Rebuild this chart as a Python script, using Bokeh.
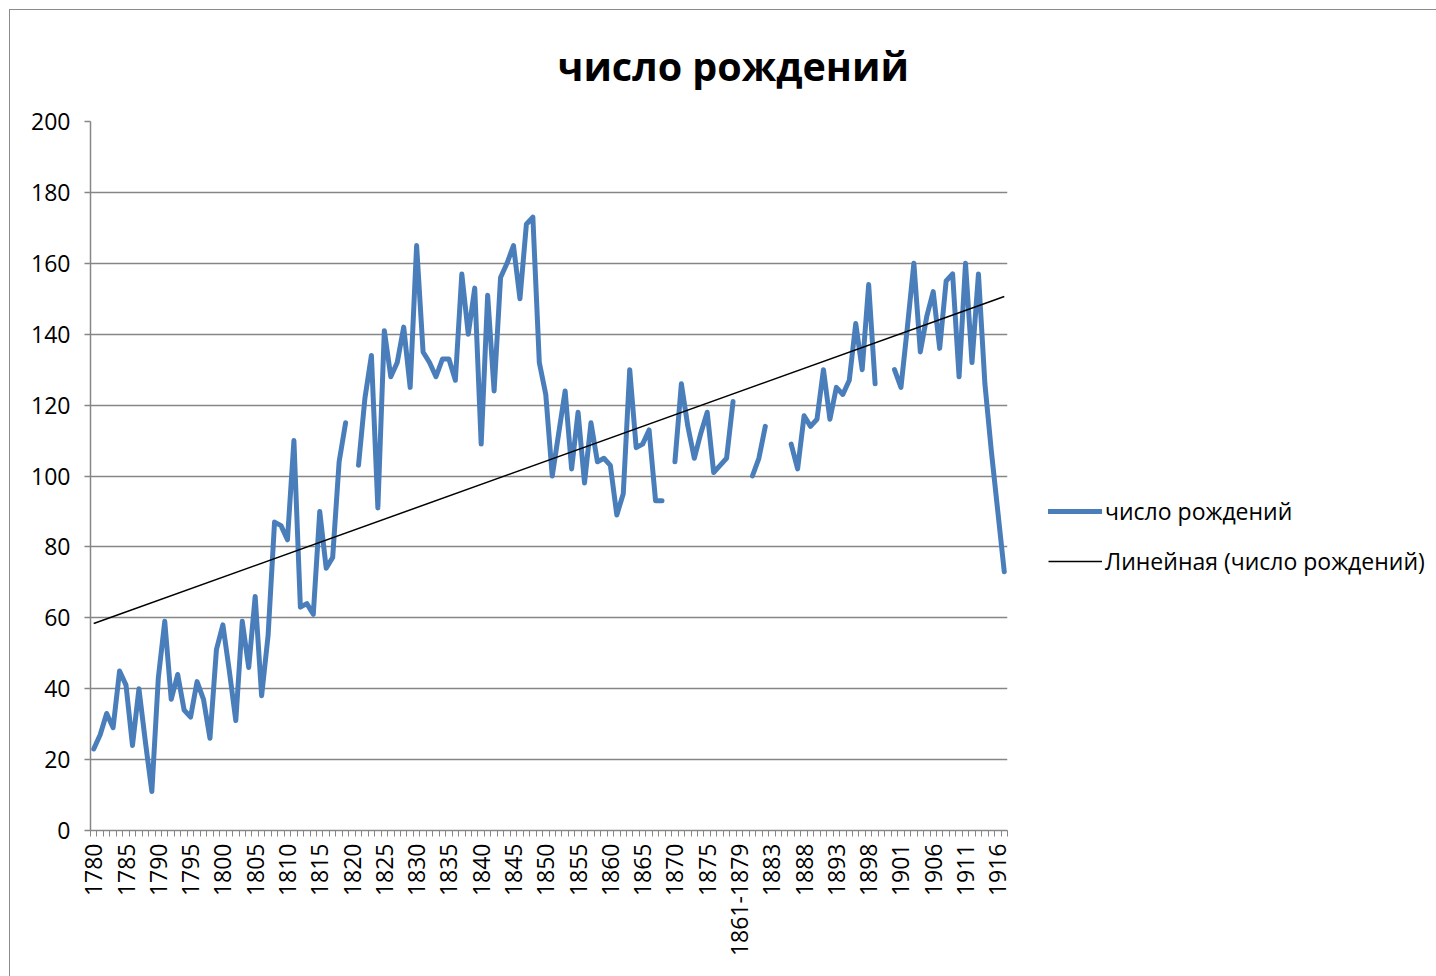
import numpy as np
from bokeh.plotting import figure
from bokeh.models import ColumnDataSource, FixedTicker, Legend, LegendItem, Range1d
from bokeh.embed import file_html
from bokeh.resources import INLINE

# ---- data ----
categories = [str(y) for y in range(1780, 1880)]
categories += ["1861-1879", "1879", "1880", "1881", "1882"]
categories += [str(y) for y in range(1883, 1900)]
categories += ["1900", "1900", "1900"]
categories += [str(y) for y in range(1901, 1918)]

births = [
    23, 27, 33, 29, 45, 41, 24, 40, 25, 11,
    43, 59, 37, 44, 34, 32, 42, 37, 26, 51,
    58, 45, 31, 59, 46, 66, 38, 55, 87, 86,
    82, 110, 63, 64, 61, 90, 74, 77, 104, 115,
    None, 103, 122, 134, 91, 141, 128, 132, 142, 125,
    165, 135, 132, 128, 133, 133, 127, 157, 140, 153,
    109, 151, 124, 156, 160, 165, 150, 171, 173, 132,
    123, 100, 112, 124, 102, 118, 98, 115, 104, 105,
    103, 89, 95, 130, 108, 109, 113, 93, 93, None,
    104, 126, 114, 105, 112, 118, 101, 103, 105, 121,
    None, None, 100, 105, 114, None, None, None, 109, 102,
    117, 114, 116, 130, 116, 125, 123, 127, 143, 130,
    154, 126, None, None, 130, 125, 142, 160, 135, 145,
    152, 136, 155, 157, 128, 160, 132, 157, 126, 107,
    90, 73,
]

series_name = "число рождений"
trend_name = "Линейная (число рождений)"
title_text = "число рождений"
y_ticks = list(range(0, 201, 20))

# ---- derived ----
idx = np.arange(len(categories), dtype=float)
yvals = np.array([np.nan if v is None else v for v in births], dtype=float)
mask = ~np.isnan(yvals)
slope, intercept = np.polyfit(idx[mask], yvals[mask], 1)
tx = np.array([idx[0], idx[-1]])
ty = intercept + slope * tx

src = ColumnDataSource(data=dict(x=idx, y=yvals))

FONT = "Open Sans"
GRAY = "#868686"

p = figure(
    frame_width=917, frame_height=709,
    min_border_left=80, min_border_right=429, min_border_top=111, min_border_bottom=146,
    x_range=Range1d(-0.5, len(categories) - 0.5), y_range=Range1d(0, 200),
    output_backend="svg", toolbar_location=None,
    background_fill_color="white", border_fill_color="white",
    styles={"border-top": "1px solid #8c8c8c", "border-left": "1px solid #8c8c8c",
            "margin-left": "9px", "margin-top": "9px"},
)
p.outline_line_color = None

p.title.text = title_text
p.title.text_font = FONT
p.title.text_font_size = "39.5px"
p.title.text_font_style = "bold"
p.title.text_color = "black"
p.title.align = "left"
p.title.vertical_align = "middle"
p.title.offset = 467
p.title.standoff = 55

r1 = p.line("x", "y", source=src, line_color="#4A7EBB", line_width=5,
            line_join="round", line_cap="round")
r2 = p.line(tx, ty, line_color="black", line_width=1.5)

# y axis
p.yaxis.ticker = FixedTicker(ticks=y_ticks)
p.yaxis.axis_line_color = GRAY
p.yaxis.axis_line_width = 1.5
p.yaxis.major_tick_line_color = GRAY
p.yaxis.major_tick_line_width = 1.5
p.yaxis.major_tick_out = 6
p.yaxis.major_tick_in = 0
p.yaxis.minor_tick_line_color = None
p.yaxis.major_label_standoff = 14
p.yaxis.major_label_text_font = FONT
p.yaxis.major_label_text_font_size = "23px"
p.yaxis.major_label_text_color = "black"

# x axis (category slots, labels every 5th)
label_pos = list(range(0, len(categories), 5))
p.xaxis.ticker = FixedTicker(ticks=label_pos,
                             minor_ticks=[i - 0.5 for i in range(len(categories) + 1)])
p.xaxis.major_label_overrides = {i: categories[i] for i in label_pos}
p.xaxis.major_label_orientation = np.pi / 2
p.xaxis.axis_line_color = GRAY
p.xaxis.axis_line_width = 1.5
p.xaxis.major_tick_line_color = None
p.xaxis.major_tick_out = 0
p.xaxis.major_tick_in = 0
p.xaxis.minor_tick_line_color = GRAY
p.xaxis.minor_tick_line_width = 1
p.xaxis.minor_tick_out = 6
p.xaxis.minor_tick_in = 0
p.xaxis.major_label_standoff = 7
p.xaxis.major_label_text_font = FONT
p.xaxis.major_label_text_font_size = "23px"
p.xaxis.major_label_text_color = "black"

p.xgrid.grid_line_color = None
p.ygrid.ticker = FixedTicker(ticks=y_ticks)
p.ygrid.grid_line_color = GRAY
p.ygrid.grid_line_width = 1.5

legend = Legend(
    items=[LegendItem(label=series_name, renderers=[r1]),
           LegendItem(label=trend_name, renderers=[r2])],
    location=(41, 253),
    glyph_width=54, glyph_height=30, label_height=30,
    spacing=18, label_standoff=3, padding=0, margin=0,
    border_line_color=None, background_fill_alpha=0,
    label_text_font=FONT, label_text_font_size="23px", label_text_color="black",
)
p.add_layout(legend, "right")

open("out.html", "w").write(file_html(p, INLINE))
